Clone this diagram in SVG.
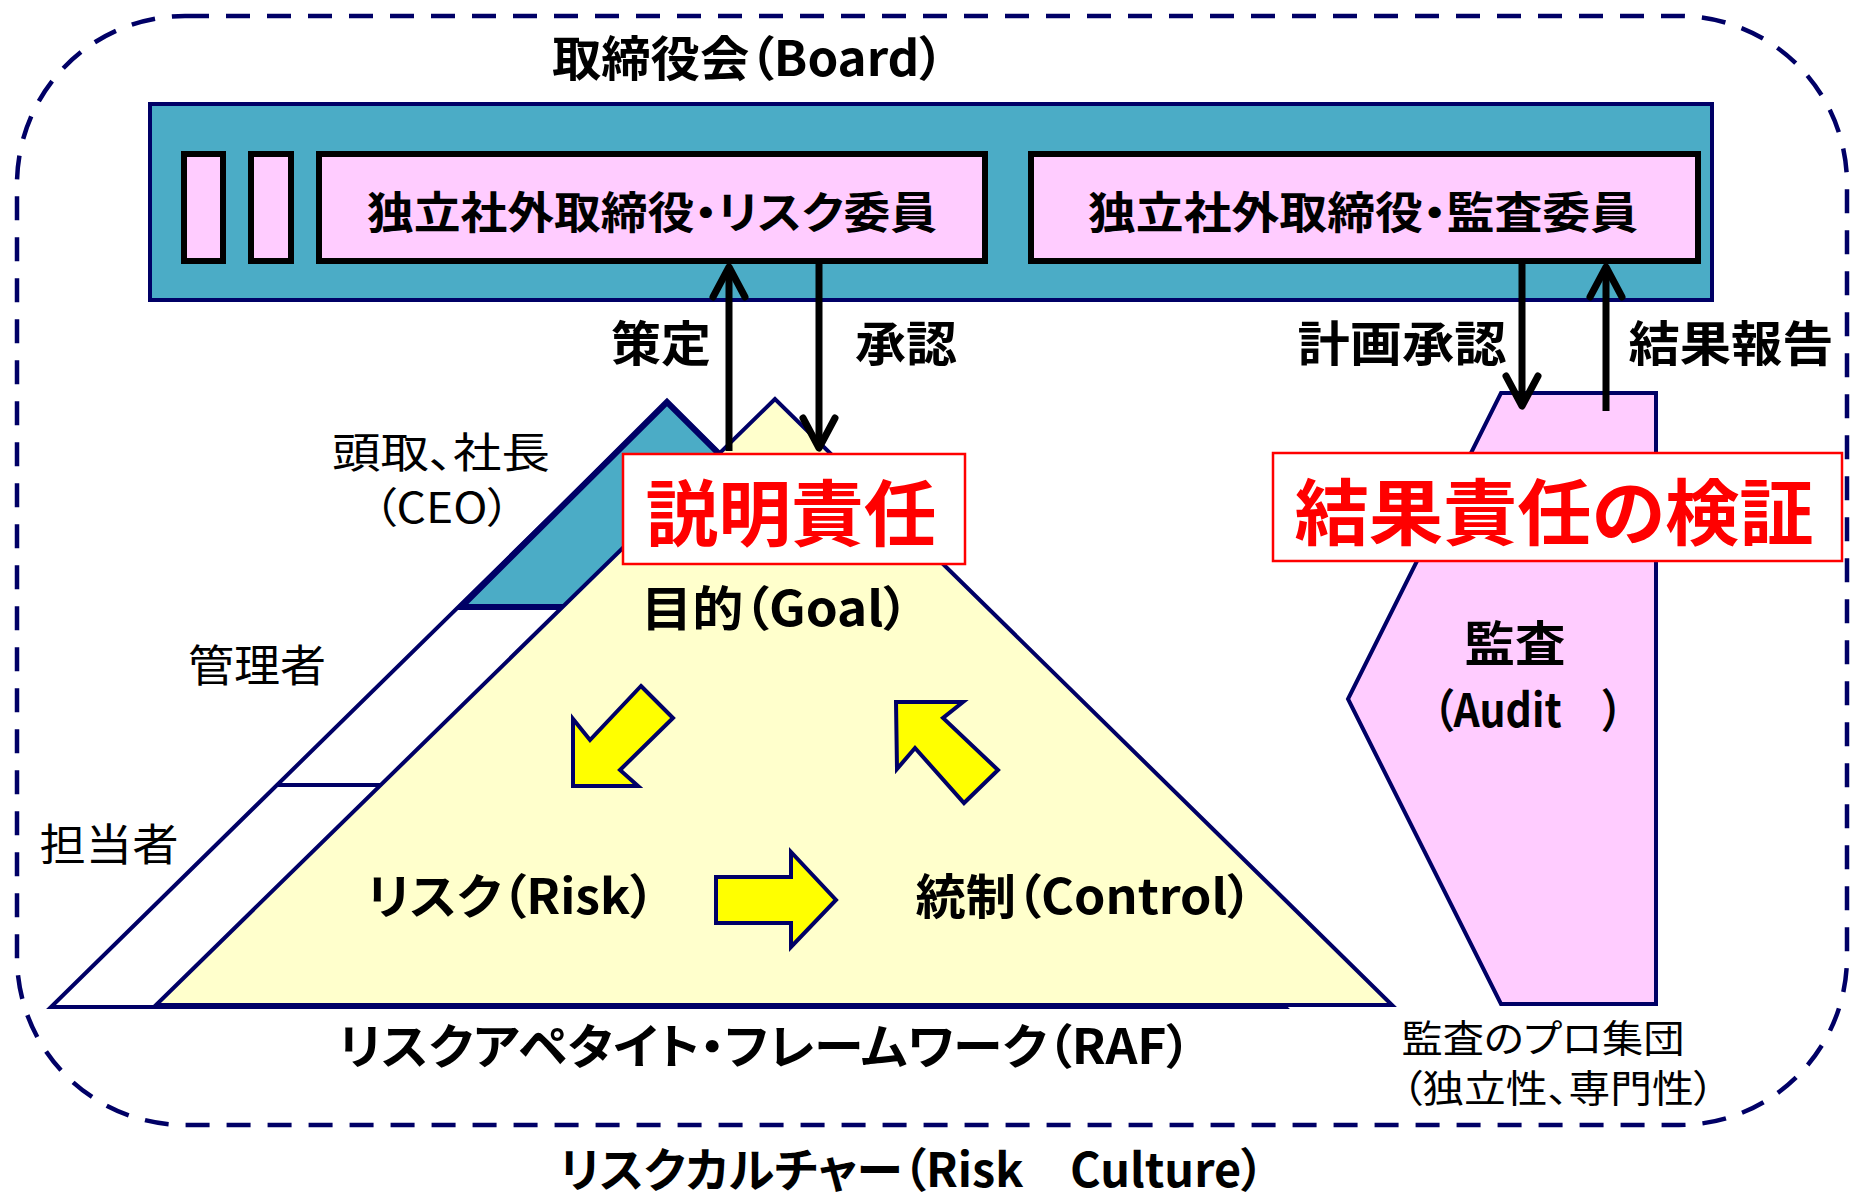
<svg xmlns="http://www.w3.org/2000/svg" width="1852" height="1199" viewBox="0 0 1852 1199">
<style>
text{font-family:"Noto Sans CJK JP","Noto Sans",sans-serif;fill:#000;text-anchor:middle;font-feature-settings:"palt" 1}
.b{font-weight:bold}
.r{font-weight:normal}
.red{fill:#FF0000;font-weight:bold}
.navy{stroke:#000066;stroke-width:4;stroke-linejoin:miter}
.pink{fill:#FFCCFF;stroke:#000;stroke-width:6}
.yarrow{fill:#FFFF00;stroke:#000066;stroke-width:4}
.conn{stroke:#000;stroke-width:7;fill:none}
</style>
<defs>
<marker id="open" markerUnits="userSpaceOnUse" viewBox="-38 -24 44 48" markerWidth="44" markerHeight="48" refX="0" refY="0" orient="auto">
<path d="M-30,-16 L0,0 L-30,16" fill="none" stroke="#000" stroke-width="7" stroke-linecap="round" stroke-linejoin="round"/>
</marker>
</defs>

<g id="culture">
<rect x="17" y="16" width="1830" height="1109" rx="168" ry="168" fill="none" stroke="#000066" stroke-width="4.5" stroke-dasharray="24 17"/>
<text class="b" x="912" y="1187" font-size="47" textLength="705" lengthAdjust="spacingAndGlyphs">リスクカルチャー（Risk　Culture）</text>
</g>

<g id="board">
<text class="b" x="748" y="76" font-size="48" textLength="392" lengthAdjust="spacingAndGlyphs">取締役会（Board）</text>
<rect x="150" y="104" width="1562" height="196" fill="#4BACC6" class="navy"/>
<rect x="184" y="154" width="39" height="107" class="pink"/>
<rect x="251" y="154" width="40" height="107" class="pink"/>
</g>

<g id="risk-committee">
<rect x="319" y="154" width="666" height="107" class="pink"/>
<text class="b" x="652" y="229" font-size="44" textLength="570" lengthAdjust="spacingAndGlyphs">独立社外取締役・リスク委員</text>
</g>

<g id="audit-committee">
<rect x="1031" y="154" width="667" height="107" class="pink"/>
<text class="b" x="1363" y="229" font-size="44" textLength="550" lengthAdjust="spacingAndGlyphs">独立社外取締役・監査委員</text>
</g>

<g id="hierarchy">
<polygon points="667,402 51,1007 1285,1007" fill="#FFFFFF" class="navy"/>
<polygon points="667,402 461,607 873,607" fill="#4BACC6" stroke="#000066" stroke-width="6" stroke-linejoin="miter"/>
<line x1="276" y1="785" x2="382" y2="785" class="navy"/>
<text class="r" x="441" y="468" font-size="42" textLength="218" lengthAdjust="spacingAndGlyphs">頭取、社長</text>
<text class="r" x="442" y="523" font-size="42" textLength="137" lengthAdjust="spacingAndGlyphs">（CEO）</text>
<text class="r" x="257" y="682" font-size="44" textLength="138" lengthAdjust="spacingAndGlyphs">管理者</text>
<text class="r" x="109" y="861" font-size="44" textLength="139" lengthAdjust="spacingAndGlyphs">担当者</text>
</g>

<g id="raf">
<polygon points="775,399 156,1005 1392,1005" fill="#FFFFCC" class="navy"/>
<text class="b" x="775" y="626" font-size="48" textLength="268" lengthAdjust="spacingAndGlyphs">目的（Goal）</text>
<text class="b" x="511" y="914" font-size="48" textLength="288" lengthAdjust="spacingAndGlyphs">リスク（Risk）</text>
<text class="b" x="1084" y="914" font-size="48" textLength="337" lengthAdjust="spacingAndGlyphs">統制（Control）</text>
<polygon class="yarrow" points="641,686 673,718 620,770 638,786 573,786 573,719 590,740"/>
<polygon class="yarrow" points="896,702 963,702 943,718 998,770 964,803 915,748 897,769"/>
<polygon class="yarrow" points="716,877 791,877 791,852 836,900 791,947 791,923 716,923"/>
<text class="b" x="765" y="1064" font-size="48" textLength="853" lengthAdjust="spacingAndGlyphs">リスクアペタイト・フレームワーク（RAF）</text>
</g>

<g id="audit">
<polygon points="1501,393 1656,393 1656,1004 1501,1004 1348,699" fill="#FFCCFF" class="navy"/>
<text class="b" x="1515" y="661" font-size="48" textLength="101" lengthAdjust="spacingAndGlyphs">監査</text>
<text class="b" x="1528" y="727" font-size="46" textLength="190" lengthAdjust="spacingAndGlyphs">（Audit　）</text>
<text class="r" x="1543" y="1052" font-size="38" textLength="283" lengthAdjust="spacingAndGlyphs">監査のプロ集団</text>
<text class="r" x="1558" y="1102" font-size="38" textLength="313" lengthAdjust="spacingAndGlyphs">（独立性、専門性）</text>
</g>

<g id="connectors">
<line class="conn" x1="729" y1="451" x2="729" y2="267" marker-end="url(#open)"/>
<line class="conn" x1="819" y1="262" x2="819" y2="448" marker-end="url(#open)"/>
<line class="conn" x1="1522" y1="262" x2="1522" y2="406" marker-end="url(#open)"/>
<line class="conn" x1="1606" y1="411" x2="1606" y2="267" marker-end="url(#open)"/>
<text class="b" x="661" y="361" font-size="48" textLength="100" lengthAdjust="spacingAndGlyphs">策定</text>
<text class="b" x="906" y="361" font-size="48" textLength="102" lengthAdjust="spacingAndGlyphs">承認</text>
<text class="b" x="1402" y="361" font-size="48" textLength="209" lengthAdjust="spacingAndGlyphs">計画承認</text>
<text class="b" x="1731" y="361" font-size="48" textLength="205" lengthAdjust="spacingAndGlyphs">結果報告</text>
</g>

<g id="accountability">
<rect x="623" y="454" width="342" height="110" fill="#FFFFFF" stroke="#FF0000" stroke-width="2.5"/>
<text class="red" x="791" y="540" font-size="72" textLength="291" lengthAdjust="spacingAndGlyphs">説明責任</text>
</g>

<g id="verification">
<rect x="1273" y="453" width="569" height="108" fill="#FFFFFF" stroke="#FF0000" stroke-width="2.5"/>
<text class="red" x="1554" y="539" font-size="72" textLength="519" lengthAdjust="spacingAndGlyphs">結果責任の検証</text>
</g>
</svg>
